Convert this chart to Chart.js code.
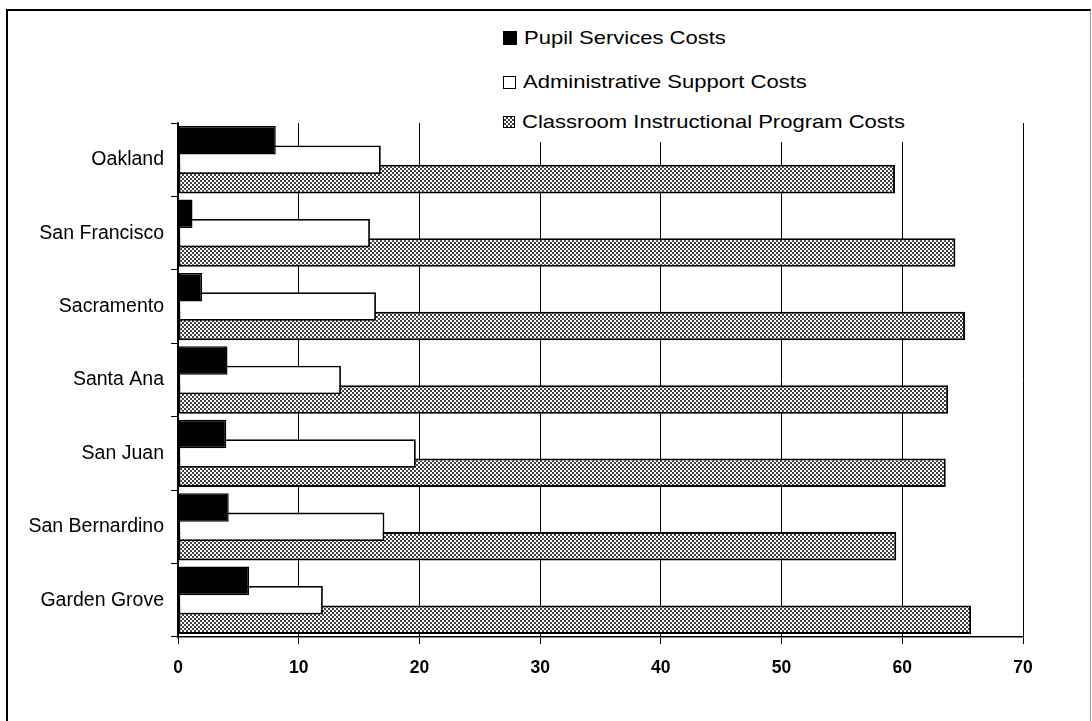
<!DOCTYPE html>
<html>
<head>
<meta charset="utf-8">
<script src="https://cdn.jsdelivr.net/npm/chart.js@4.4.1/dist/chart.umd.min.js"></script>
<style>
  html, body { margin: 0; padding: 0; background: #fff; }
  body { width: 1092px; height: 721px; position: relative; overflow: hidden; font-family: Arial, "Liberation Sans", sans-serif; }
  #wrap { position: absolute; left: 0; top: 0; width: 1092px; height: 721px; }
  #frame { position: absolute; left: 6px; top: 9px; width: 1082px; height: 800px;
           border-left: 2px solid #000; border-top: 2px solid #000; border-right: 1px solid #999; pointer-events: none; }
  #legend { position: absolute; left: 496px; top: 22px; width: 420px; height: 120px; background: #fff; }
  .item { position: absolute; left: 0; height: 24px; display: flex; align-items: center; color: #000; white-space: nowrap; }
  .sw { width: 12px; height: 12px; box-sizing: border-box; border: 1.5px solid #000; margin-left: 7px; margin-right: 7px; flex: none; }
  .tx { font-size: 18.5px; display: inline-block; transform: scaleX(1.19); transform-origin: 0 50%; }
</style>
</head>
<body>
<div id="wrap"><canvas id="c" width="1092" height="721"></canvas></div>
<div id="frame"></div>
<div id="legend"></div>
<script>
const categories = ['Oakland', 'San Francisco', 'Sacramento', 'Santa Ana', 'San Juan', 'San Bernardino', 'Garden Grove'];
const seriesNames = ['Pupil Services Costs', 'Administrative Support Costs', 'Classroom Instructional Program Costs'];
const pupilServices = [8.1, 1.2, 2.0, 4.1, 4.0, 4.2, 5.9];
const adminSupport = [16.8, 15.9, 16.4, 13.5, 19.7, 17.1, 12.0];
const classroomProgram = [59.4, 64.4, 65.2, 63.8, 63.6, 59.5, 65.7];
const xTicks = [0, 10, 20, 30, 40, 50, 60, 70];

const FONT = 'Arial, "Liberation Sans", sans-serif';
const canvas = document.getElementById('c');
const ctx = canvas.getContext('2d');

function makePattern() {
  const t = document.createElement('canvas');
  t.width = 4; t.height = 4;
  const g = t.getContext('2d');
  g.fillStyle = '#ffffff'; g.fillRect(0, 0, 4, 4);
  g.fillStyle = '#404040'; g.fillRect(0, 0, 2, 2); g.fillRect(2, 2, 2, 2);
  return ctx.createPattern(t, 'repeat');
}
const hatch = makePattern();

const chart = new Chart(ctx, {
  type: 'bar',
  data: {
    labels: categories,
    datasets: [
      { label: seriesNames[0], data: pupilServices, backgroundColor: '#000', borderColor: '#000', borderWidth: 1.5 },
      { label: seriesNames[1], data: adminSupport, backgroundColor: '#fff', borderColor: '#000', borderWidth: 1.8 },
      { label: seriesNames[2], data: classroomProgram, backgroundColor: hatch, borderColor: '#000', borderWidth: 2 }
    ]
  },
  options: {
    indexAxis: 'y',
    responsive: false,
    animation: false,
    devicePixelRatio: 1,
    layout: { padding: { left: 0, top: 123, right: 69, bottom: 0 } },
    datasets: { bar: { categoryPercentage: 0.793, barPercentage: 1.47, borderSkipped: false } },
    plugins: { legend: { display: false }, tooltip: { enabled: false } },
    scales: {
      x: {
        type: 'linear', min: 0, max: 70,
        afterBuildTicks: s => { s.ticks = xTicks.map(v => ({ value: v })); },
        afterFit: s => { s.height = 84; },
        ticks: { color: '#000', font: { family: FONT, size: 17.5, weight: 'bold' }, padding: 14, maxRotation: 0, autoSkip: false },
        grid: { color: '#000', lineWidth: 1, tickLength: 7, tickColor: '#000' },
        border: { color: '#000', width: 1.5 }
      },
      y: {
        afterFit: s => { s.width = 178; },
        ticks: { color: '#000', font: { family: FONT, size: 19.5 }, padding: 7, autoSkip: false },
        grid: { offset: true, drawOnChartArea: false, color: '#000', tickLength: 7 },
        border: { color: '#000', width: 1.5 }
      }
    }
  }
});

// HTML legend built from datasets
const legend = document.getElementById('legend');
const tops = [4, 48, 88];
chart.data.datasets.forEach((ds, i) => {
  const it = document.createElement('div');
  it.className = 'item';
  it.style.top = tops[i] + 'px';
  const sw = document.createElement('span');
  sw.className = 'sw';
  if (i === 0) { sw.style.background = '#000'; sw.style.width = '14px'; sw.style.height = '14px'; }
  else if (i === 1) { sw.style.background = '#fff'; sw.style.width = '13px'; sw.style.height = '13px'; }
  else { sw.style.background = 'repeating-conic-gradient(#404040 0 25%, #fff 0 50%) 0 0 / 4px 4px'; }
  const tx = document.createElement('span');
  tx.className = 'tx';
  tx.textContent = ds.label;
  it.appendChild(sw); it.appendChild(tx);
  legend.appendChild(it);
});
</script>
</body>
</html>
